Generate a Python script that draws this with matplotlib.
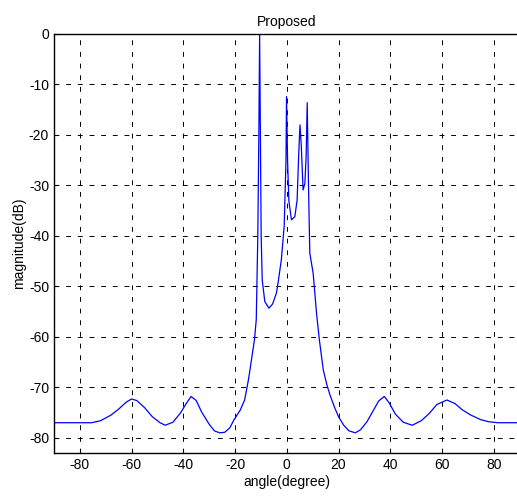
import matplotlib
matplotlib.use("Agg")
import matplotlib.pyplot as plt

angle_deg = [-90, -75.5, -72, -68, -65, -62, -60, -58, -55, -52, -49, -47, -44, -41, -39, -37,
             -35, -33, -30, -28, -26, -24, -22, -20.5, -18, -16.3, -15, -14.4, -13.5, -12.5,
             -11.8, -11.2, -10.8, -10.5, -10.2, -9.9, -9.5, -8.5, -6.9, -5.5, -4.0, -3.4, -2.1,
             -1.0, -0.3, -0.1, 0.3, 0.8, 1.8, 3.1, 4.0, 4.6, 5.1, 5.6, 6.3, 7.0, 7.5, 7.9, 8.4,
             8.9, 10.2, 11.5, 12.6, 14.1, 15.5, 16.7, 18.5, 20.0, 22, 24, 26.5, 28.5, 31.0, 33,
             35.5, 37.7, 39.5, 42, 45, 48.5, 52, 55, 58, 61.9, 65, 68, 71.2, 75, 78, 81.6, 90]
magnitude_db = [-77.0, -77.0, -76.6, -75.5, -74.3, -72.9, -72.3, -72.6, -74.0, -75.8, -77.0, -77.5,
                -76.9, -75.0, -73.3, -71.8, -72.6, -74.8, -77.3, -78.6, -79.0, -78.9, -78.0, -76.5,
                -74.5, -72.5, -69.0, -67.1, -64.0, -60.6, -56.6, -40.0, -20.0, 0.0, -20.0, -40.0,
                -48.7, -53.0, -54.3, -53.5, -51.3, -49.4, -44.7, -38.0, -25.0, -12.4, -25.0, -33.0,
                -36.8, -36.2, -32.9, -24.0, -18.0, -22.0, -30.9, -29.6, -24.0, -13.6, -30.0, -43.4,
                -47.4, -55.3, -60.6, -66.5, -69.5, -71.5, -74.0, -75.8, -77.5, -78.6, -79.0, -78.4,
                -76.8, -75.0, -72.7, -71.8, -73.0, -75.3, -76.9, -77.5, -76.6, -75.2, -73.4, -72.5,
                -73.2, -74.5, -75.5, -76.4, -76.8, -77.0, -77.0]
x_ticks = [-80, -60, -40, -20, 0, 20, 40, 60, 80]
y_ticks = [0, -10, -20, -30, -40, -50, -60, -70, -80]

plt.rcParams['font.family'] = ['Liberation Sans', 'DejaVu Sans']
plt.rcParams['font.size'] = 10
plt.rcParams['axes.unicode_minus'] = False

fig = plt.figure(figsize=(5.17, 4.97), dpi=100)
ax = fig.add_axes([0.1044, 0.0885, 0.9006, 0.8431])
ax.plot(angle_deg, magnitude_db, color='#0000ff', linewidth=0.9)
ax.set_xlim(-90, 90)
ax.set_ylim(-83, 0)
ax.set_xticks(x_ticks)
ax.set_yticks(y_ticks)
ax.grid(True, color='black', linestyle=(0, (5, 7)), linewidth=0.7)
ax.tick_params(direction='in', length=3, color='black', labelsize=10)
for s in ax.spines.values():
    s.set_linewidth(1.0)
    s.set_color('black')
ax.set_title('Proposed', fontsize=10, pad=6)
ax.set_xlabel('angle(degree)', fontsize=10, labelpad=2)
ax.set_ylabel('magnitude(dB)', fontsize=10, labelpad=2)
fig.savefig('out.png', dpi=100)
